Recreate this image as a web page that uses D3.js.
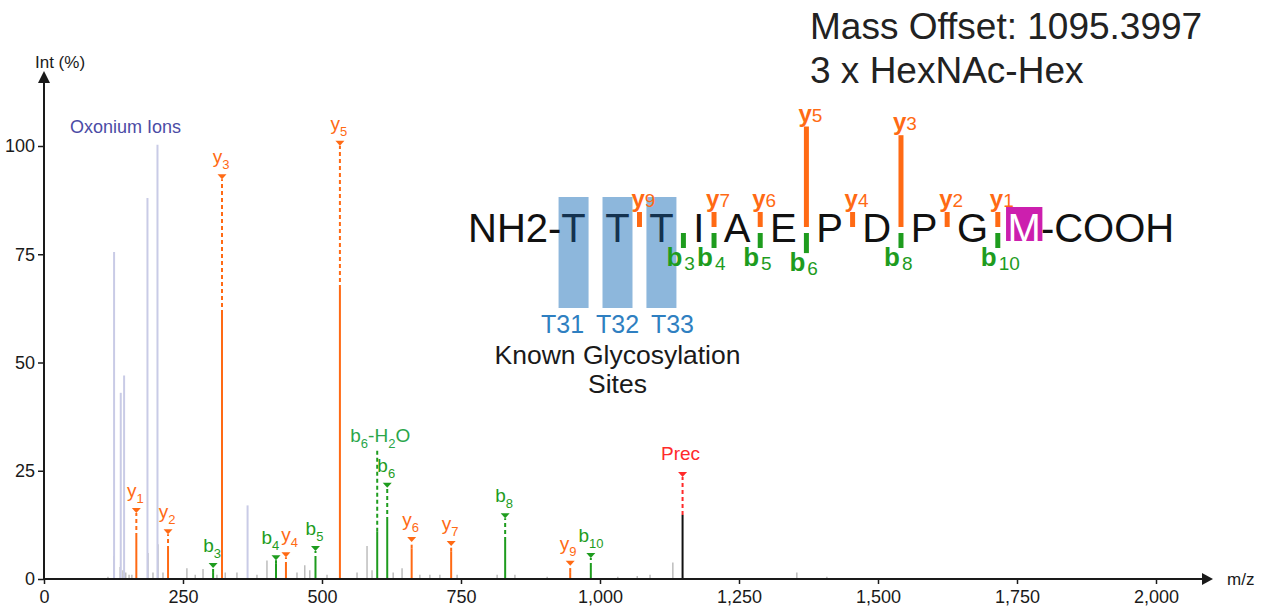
<!DOCTYPE html>
<html>
<head>
<meta charset="utf-8">
<title>Glycopeptide MS/MS spectrum</title>
<script src="https://cdn.jsdelivr.net/npm/d3@7"></script>
<style>
  body { margin: 0; background: #fff; }
  svg { font-family: "Liberation Sans", Arial, sans-serif; }
</style>
</head>
<body>
<svg id="canvas" width="1272" height="607"></svg>
<script>
// peptide TTTIAEPDPGM (M oxidised), glycosites on the three T
const residues = ["T", "T", "T", "I", "A", "E", "P", "D", "P", "G", "M"];
const glycoSites = [0, 1, 2];
const glycoLabels = ["T31", "T32", "T33"];
const oxidised = [10];

// [ion number, m/z, intensity %, label level %]
const yIons = [
  [1, 166.06, 9.7, 16.4],
  [2, 223.08, 6.7, 11.5],
  [3, 320.14, 61.2, 93.5],
  [4, 435.16, 3.0, 6.2],
  [5, 532.22, 67.0, 101.2],
  [6, 661.26, 7.0, 9.7],
  [7, 732.30, 6.3, 8.8],
  [9, 946.42, 1.6, 4.2]
];
const bIons = [
  [3, 304.16, 1.4, 3.7],
  [4, 417.24, 3.5, 5.5],
  [5, 488.28, 4.4, 7.6],
  [6, 617.32, 13.4, 22.2],
  [8, 829.42, 8.8, 15.2],
  [10, 983.50, 2.8, 6.0]
];
// [m/z, intensity %, label level %]
const waterLoss = [599.31, 10.9, 29.6];
const precursor = [1148.5, 14.8, 24.7];

// [m/z, intensity %]
const oxonium = [
  [126.05, 75.5], [138.05, 43], [144.07, 47], [186.08, 88], [204.09, 100.3], [366.14, 17]
];
const noise = [
  [115, 0.5], [126, 5.3], [137, 2.8], [142, 2], [147, 1.5], [153, 1], [158, 1],
  [187, 6], [196, 1.5], [205, 8], [214, 1.5], [257, 2.5], [272, 1], [286, 2.3],
  [311, 1], [326, 1.5], [347, 1.5], [383, 1], [401, 4.3], [455, 1.5], [469, 3.2],
  [478, 2], [509, 1], [563, 1.5], [581, 7.6], [590, 2], [628, 1.5], [644, 2.5],
  [676, 1], [694, 1], [712, 1], [743, 1], [815, 1], [847, 1], [905, 0.5],
  [1032, 0.5], [1067, 0.7], [1090, 1], [1131, 3.8], [1354, 1.5], [1408, 0.5]
];

const xTicks = [0, 250, 500, 750, 1000, 1250, 1500, 1750, 2000];
const yTicks = [0, 25, 50, 75, 100];

const orange = "#ff6a14";
const green = "#1e9c1e";
const ink = "#1a1a1a";

const svg = d3.select("#canvas");
const x = d3.scaleLinear().domain([0, 2000]).range([44, 1156]);
const y = d3.scaleLinear().domain([0, 100]).range([579, 146]);

// axes
const xAxis = svg.append("g")
  .attr("transform", "translate(0," + y(0) + ")")
  .call(d3.axisBottom(x).tickValues(xTicks).tickFormat(d3.format(",")).tickSize(5).tickPadding(6));
const yAxis = svg.append("g")
  .attr("transform", "translate(" + x(0) + ",0)")
  .call(d3.axisLeft(y).tickValues(yTicks).tickSize(6).tickPadding(3));
[xAxis, yAxis].forEach(function(a) {
  a.select(".domain").remove();
  a.selectAll(".tick line").attr("stroke", ink).attr("stroke-width", 1.5);
  a.selectAll(".tick text").attr("fill", ink).attr("font-size", 18).attr("font-family", "Liberation Sans, Arial, sans-serif");
});

// noise
svg.append("g").selectAll("line")
  .data(noise)
  .join("line")
    .attr("x1", d => x(d[0])).attr("x2", d => x(d[0]))
    .attr("y1", y(0)).attr("y2", d => y(d[1]))
    .attr("stroke", "#bdbdbd").attr("stroke-width", 1.5);

// oxonium ions
svg.append("g").selectAll("line")
  .data(oxonium)
  .join("line")
    .attr("x1", d => x(d[0])).attr("x2", d => x(d[0]))
    .attr("y1", y(0)).attr("y2", d => y(d[1]))
    .attr("stroke", "#c9cbe6").attr("stroke-width", 2);
svg.append("text")
  .attr("x", 70).attr("y", 133)
  .attr("font-size", 18).attr("fill", "#4b4ba5")
  .text("Oxonium Ions");

// annotated peaks
const labels = [];
function peak(mz, inten, level, color, lineColor, marker) {
  const g = svg.append("g");
  g.append("line")
    .attr("x1", x(mz)).attr("x2", x(mz))
    .attr("y1", y(inten)).attr("y2", y(level) + (marker ? 5 : 0))
    .attr("stroke", color).attr("stroke-width", 2).attr("stroke-dasharray", "4,3");
  g.append("line")
    .attr("x1", x(mz)).attr("x2", x(mz))
    .attr("y1", y(0)).attr("y2", y(inten))
    .attr("stroke", lineColor).attr("stroke-width", 2);
  if (marker) {
    const px = x(mz), py = y(level);
    g.append("path")
      .attr("d", "M" + (px - 4.5) + "," + py + "L" + (px + 4.5) + "," + py + "L" + px + "," + (py + 5) + "Z")
      .attr("fill", color);
  }
  return g;
}

function ionText(g, px, py, parts, color) {
  const t = g.append("text")
    .attr("x", px).attr("y", py)
    .attr("text-anchor", "middle")
    .attr("font-size", 19).attr("fill", color);
  parts.forEach(function(p) {
    t.append("tspan")
      .attr("font-size", p[1] ? 13 : 19)
      .attr("dy", p[1] ? 6 : (p[2] ? -6 : 0))
      .text(p[0]);
  });
  labels.push(t);
}

yIons.forEach(function(d) {
  const g = peak(d[1], d[2], d[3], orange, orange, true);
  ionText(g, x(d[1]) - 1, y(d[3]) - 11, [["y"], [String(d[0]), true]], orange);
});
bIons.forEach(function(d) {
  const g = peak(d[1], d[2], d[3], green, green, true);
  ionText(g, x(d[1]) - 1, y(d[3]) - 11, [["b"], [String(d[0]), true]], green);
});
const wl = peak(waterLoss[0], waterLoss[1], waterLoss[2], green, green, false);
ionText(wl, x(waterLoss[0]) + 3, y(waterLoss[2]) - 9,
  [["b"], ["6", true], ["-H", false, true], ["2", true], ["O", false, true]], "#2aa64a");
const pr = peak(precursor[0], precursor[1], precursor[2], "#ff2a2a", "#111", true);
pr.append("text")
  .attr("x", x(precursor[0]) - 2).attr("y", y(precursor[2]) - 12)
  .attr("text-anchor", "middle").attr("font-size", 19).attr("fill", "#ff2a2a")
  .text("Prec");

// push apart neighbouring labels that collide
labels.sort((a, b) => a.node().getBBox().x - b.node().getBBox().x);
for (let i = 1; i < labels.length; i++) {
  const a = labels[i - 1].node().getBBox(), b = labels[i].node().getBBox();
  const overlapX = a.x + a.width - b.x;
  const overlapY = Math.min(a.y + a.height, b.y + b.height) - Math.max(a.y, b.y);
  if (overlapX > 0 && overlapY > 0) {
    const s = overlapX / 2 + 1;
    labels[i - 1].attr("x", +labels[i - 1].attr("x") - s);
    labels[i].attr("x", +labels[i].attr("x") + s);
  }
}

// axis lines with arrows
svg.append("line").attr("x1", 44).attr("x2", 1205).attr("y1", y(0)).attr("y2", y(0))
  .attr("stroke", ink).attr("stroke-width", 2);
svg.append("path").attr("d", "M1213," + y(0) + "L1202," + (y(0) - 6) + "L1202," + (y(0) + 6) + "Z").attr("fill", ink);
svg.append("line").attr("x1", 44).attr("x2", 44).attr("y1", y(0)).attr("y2", 80)
  .attr("stroke", ink).attr("stroke-width", 2);
svg.append("path").attr("d", "M44,71L38,83L50,83Z").attr("fill", ink);
svg.append("text").attr("x", 35).attr("y", 68).attr("font-size", 17).attr("fill", ink).text("Int (%)");
svg.append("text").attr("x", 1227).attr("y", 585).attr("font-size", 17).attr("fill", ink).text("m/z");

// header
svg.append("text").attr("x", 810).attr("y", 39).attr("font-size", 37).attr("fill", "#222").text("Mass Offset: 1095.3997");
svg.append("text").attr("x", 810).attr("y", 83).attr("font-size", 37).attr("fill", "#222").text("3 x HexNAc-Hex");

// peptide sequence
const base = 242;
const boxes = svg.append("g");
const pep = svg.append("g").attr("font-size", 40).attr("fill", "#111");
let cursor = 468;
const nTerm = pep.append("text").attr("x", cursor).attr("y", base).text("NH2-");
cursor += nTerm.node().getComputedTextLength();
const pos = [];
residues.forEach(function(r, i) {
  if (i > 0) cursor += 19.5;
  const t = pep.append("text").attr("x", cursor).attr("y", base).text(r);
  const w = t.node().getComputedTextLength();
  pos.push({ x0: cursor, x1: cursor + w, c: cursor + w / 2, node: t });
  cursor += w;
});
pep.append("text").attr("x", cursor).attr("y", base).text("-COOH");

oxidised.forEach(function(i) {
  boxes.append("rect")
    .attr("x", pos[i].x0 - 1.5).attr("y", base - 35)
    .attr("width", pos[i].x1 - pos[i].x0 + 3).attr("height", 34)
    .attr("fill", "#cc1fae");
  pos[i].node.attr("fill", "#fff");
});

// glycosylation sites
glycoSites.forEach(function(i, k) {
  boxes.append("rect")
    .attr("x", pos[i].c - 15).attr("y", 197)
    .attr("width", 30).attr("height", 111)
    .attr("fill", "#8db7dc");
  pos[i].node.attr("fill", "#14324f");
  svg.append("text")
    .attr("x", pos[i].c + (k - 1) * 11).attr("y", 333)
    .attr("text-anchor", "middle").attr("font-size", 25).attr("fill", "#2f7fc1")
    .text(glycoLabels[k]);
});
svg.append("text").attr("x", pos[1].c).attr("y", 364).attr("text-anchor", "middle")
  .attr("font-size", 26.5).attr("fill", ink).text("Known Glycosylation");
svg.append("text").attr("x", pos[1].c).attr("y", 393).attr("text-anchor", "middle")
  .attr("font-size", 26.5).attr("fill", ink).text("Sites");

const cut = n => (pos[n - 1].x1 + pos[n].x0) / 2;
const tickLen = v => Math.max(15, v * 1.5);

yIons.forEach(function(d) {
  const cx = cut(residues.length - d[0]);
  const top = base - 15 - tickLen(d[2]);
  svg.append("line").attr("x1", cx).attr("x2", cx).attr("y1", base - 15).attr("y2", top)
    .attr("stroke", orange).attr("stroke-width", 5);
  const t = svg.append("text").attr("x", cx - 8).attr("y", top - 5).attr("fill", orange);
  t.append("tspan").attr("font-size", 24).attr("font-weight", "bold").text("y");
  t.append("tspan").attr("font-size", 19).text(d[0]);
});
bIons.forEach(function(d) {
  const cx = cut(d[0]);
  const bottom = base - 9 + tickLen(d[2]);
  svg.append("line").attr("x1", cx).attr("x2", cx).attr("y1", base - 9).attr("y2", bottom)
    .attr("stroke", green).attr("stroke-width", 5);
  const t = svg.append("text").attr("x", cx - 17).attr("y", bottom + 18).attr("fill", green);
  t.append("tspan").attr("font-size", 26).attr("font-weight", "bold").text("b");
  t.append("tspan").attr("font-size", 19).attr("dx", 2).attr("dy", 4).text(d[0]);
});
</script>
</body>
</html>
